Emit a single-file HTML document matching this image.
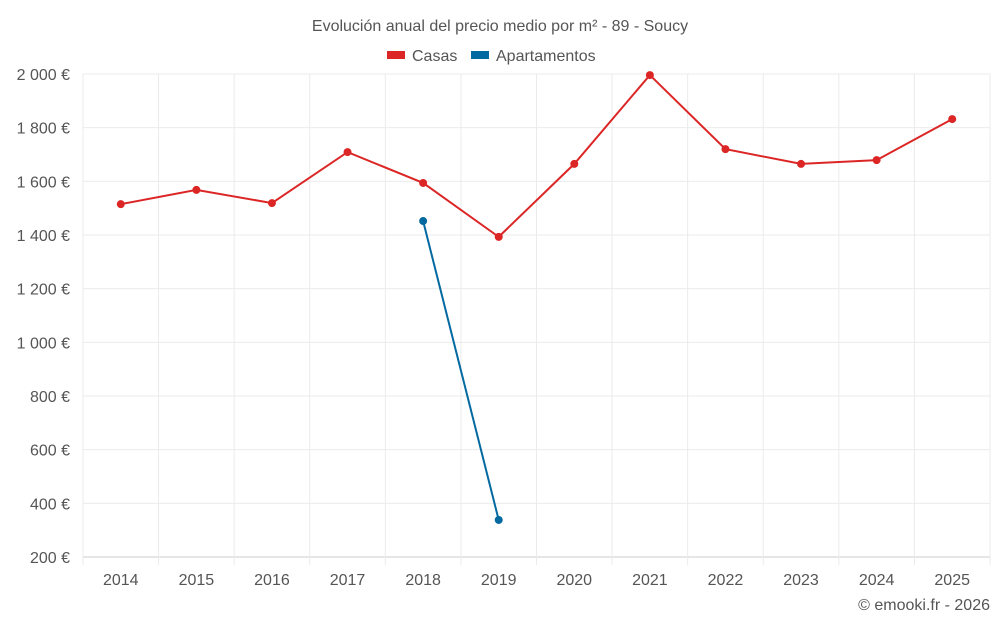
<!DOCTYPE html>
<html><head><meta charset="utf-8"><style>
body{margin:0;background:#fff;font-family:"Liberation Sans",sans-serif;}
svg text{font-family:"Liberation Sans",sans-serif;fill:#555;}
</style></head><body>
<svg id="chart" width="1000" height="625">
<text x="500" y="31" font-size="16" text-anchor="middle">Evolución anual del precio medio por m² - 89 - Soucy</text>
<g>
<g><rect x="387" y="51" width="18" height="8" fill="#dc2626"/><text x="412" y="61" font-size="16">Casas</text></g>
<g><rect x="471" y="51" width="18" height="8" fill="#0369a1"/><text x="496" y="61" font-size="16">Apartamentos</text></g>
</g>
<g id="grid"></g><g id="axes"></g><g id="series"></g>
<text x="990" y="610" font-size="16" text-anchor="end">© emooki.fr - 2026</text>
</svg>
<script>
const years=["2014","2015","2016","2017","2018","2019","2020","2021","2022","2023","2024","2025"];
const casas=[1515,1568,1519,1709,1594,1393,1665,1996,1720,1665,1679,1832];
const apartamentos=[null,null,null,null,1452,338,null,null,null,null,null,null];
const yTicks=[200,400,600,800,1000,1200,1400,1600,1800,2000];
const L=83,R=990,T=74,B=557,yMin=200,yMax=2000;
const band=(R-L)/years.length;
const x=i=>L+band*(i+0.5);
const y=v=>B-(v-yMin)/(yMax-yMin)*(B-T);
const NS="http://www.w3.org/2000/svg";
function mk(tag,attrs,parent){const e=document.createElementNS(NS,tag);for(const k in attrs)e.setAttribute(k,attrs[k]);document.getElementById(parent).appendChild(e);return e;}
yTicks.forEach(v=>{
 const g=mk('line',{x1:L,x2:R,y1:y(v),y2:y(v),stroke:v===yMin?'#ccc':'#ebebeb'},'grid');
 
 
 const t=mk('text',{x:70,y:y(v)+6,'font-size':16,'text-anchor':'end'},'axes');
 t.textContent=v.toLocaleString('fr-FR').replace(/\u202f|\u00a0/g,' ')+' €';
 
 
});
for(let i=0;i<=years.length;i++){
 const g=mk('line',{x1:L+band*i,x2:L+band*i,y1:T,y2:B+8,stroke:'#ebebeb'},'grid');
 
 
}
years.forEach((yr,i)=>{
 const t=mk('text',{x:x(i),y:585,'font-size':16,'text-anchor':'middle'},'axes');
 t.textContent=yr;
 
 
});
function series(vals,color,name){
 let d='';let pen=false;
 vals.forEach((v,i)=>{if(v==null){pen=false;return;}d+=(pen?'L':'M')+x(i)+' '+y(v)+' ';pen=true;});
 const p=mk('path',{d:d,fill:'none',stroke:color,'stroke-width':2},'series');
 
 
 vals.forEach((v,i)=>{if(v==null)return;
  const c=mk('circle',{cx:x(i),cy:y(v),r:4,fill:color},'series');
  
  
 });
}
series(casas,'#dc2626','casas');
series(apartamentos,'#0369a1','apartamentos');
</script>
</body></html>
